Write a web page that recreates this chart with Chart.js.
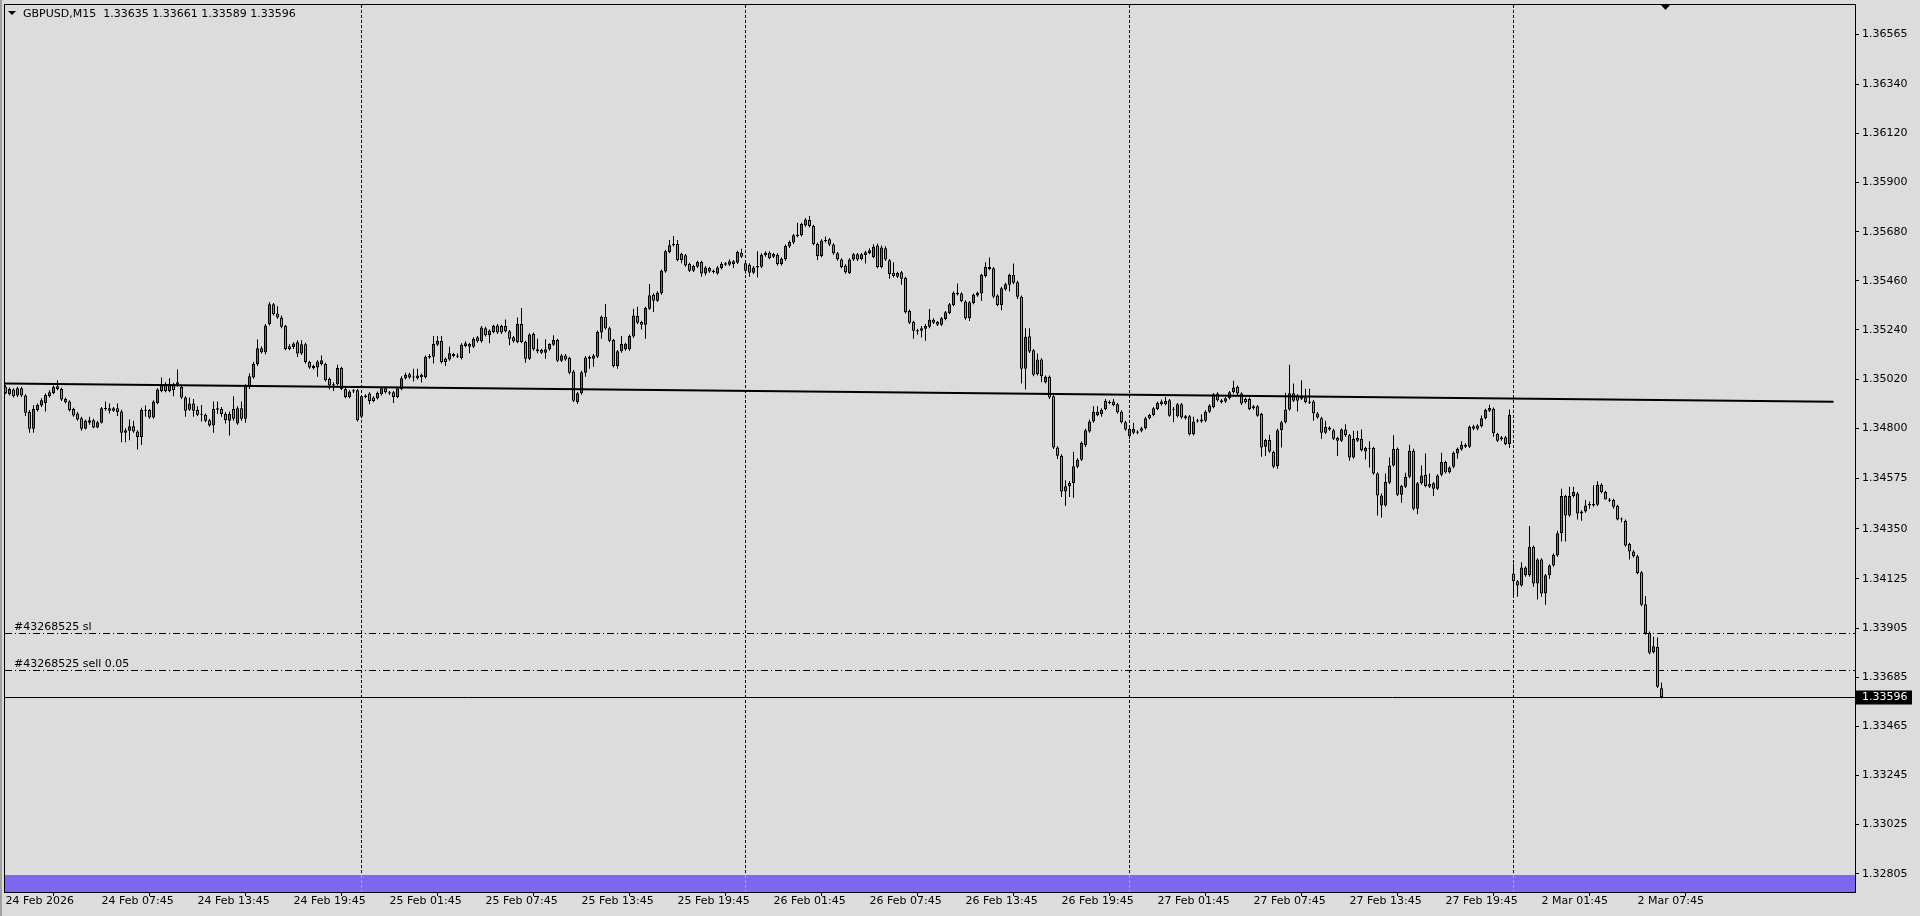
<!DOCTYPE html>
<html>
<head>
<meta charset="utf-8">
<script src="https://cdn.jsdelivr.net/npm/chart.js@4.4.0/dist/chart.umd.min.js"></script>
<style>
html, body { margin: 0; padding: 0; background: #dcdcdc; overflow: hidden; }
canvas { display: block; }
</style>
</head>
<body>
<canvas id="priceChart" width="1920" height="916"></canvas>
<script>
const symbolTitle = "GBPUSD,M15  1.33635 1.33661 1.33589 1.33596";

// M15 bars, 24 Feb 01:45 .. 2 Mar 09:15
const opens = [
1.34985,1.34952,1.34973,1.34946,1.34979,1.34946,1.34872,1.34797,1.34881,1.34901,
1.34913,1.34943,1.34958,1.34988,1.34976,1.34931,1.34919,1.34886,1.34866,1.34845,
1.34797,1.34824,1.34836,1.34803,1.34824,1.34886,1.34889,1.34889,1.34889,1.34875,
1.34779,1.34788,1.34809,1.34785,1.34761,1.34878,1.34881,1.34848,1.34913,1.34967,
1.34997,1.34967,1.34997,1.35006,1.34985,1.34937,1.34883,1.34910,1.34881,1.34860,
1.34860,1.34836,1.34812,1.34883,1.34886,1.34863,1.34833,1.34886,1.34821,1.34889,
1.34842,1.34985,1.35027,1.35087,1.35158,1.35140,1.35266,1.35355,1.35313,1.35296,
1.35257,1.35167,1.35164,1.35185,1.35134,1.35176,1.35096,1.35069,1.35072,1.35087,
1.35087,1.35021,1.34997,1.34997,1.35069,1.34976,1.34940,1.34964,1.34970,1.34851,
1.34940,1.34955,1.34937,1.34934,1.34952,1.34979,1.34961,1.34961,1.34940,1.34976,
1.35024,1.35042,1.35027,1.35036,1.35028,1.35028,1.35117,1.35120,1.35174,1.35192,
1.35111,1.35108,1.35123,1.35126,1.35114,1.35168,1.35165,1.35165,1.35189,1.35189,
1.35248,1.35216,1.35231,1.35260,1.35257,1.35257,1.35234,1.35207,1.35186,1.35266,
1.35186,1.35111,1.35222,1.35153,1.35150,1.35138,1.35153,1.35174,1.35195,1.35102,
1.35126,1.35114,1.35054,1.34917,1.34956,1.35048,1.35111,1.35111,1.35120,1.35228,
1.35299,1.35248,1.35195,1.35078,1.35144,1.35153,1.35153,1.35210,1.35302,1.35275,
1.35263,1.35335,1.35398,1.35371,1.35404,1.35502,1.35589,1.35625,1.35625,1.35580,
1.35574,1.35535,1.35505,1.35523,1.35544,1.35493,1.35517,1.35499,1.35493,1.35517,
1.35532,1.35532,1.35547,1.35541,1.35586,1.35538,1.35532,1.35496,1.35520,1.35523,
1.35586,1.35586,1.35568,1.35577,1.35535,1.35556,1.35613,1.35631,1.35661,1.35664,
1.35708,1.35732,1.35705,1.35625,1.35571,1.35637,1.35646,1.35622,1.35583,1.35555,
1.35528,1.35495,1.35555,1.35579,1.35558,1.35576,1.35585,1.35567,1.35618,1.35522,
1.35606,1.35552,1.35495,1.35478,1.35498,1.35472,1.35325,1.35275,1.35239,1.35236,
1.35245,1.35254,1.35286,1.35275,1.35263,1.35289,1.35316,1.35352,1.35400,1.35403,
1.35367,1.35292,1.35361,1.35394,1.35403,1.35481,1.35522,1.35516,1.35394,1.35352,
1.35421,1.35442,1.35487,1.35454,1.35388,1.35066,1.35212,1.35149,1.35042,1.35107,
1.35006,1.35030,1.34943,1.34713,1.34677,1.34516,1.34540,1.34555,1.34627,1.34659,
1.34725,1.34785,1.34830,1.34874,1.34862,1.34886,1.34913,1.34919,1.34907,1.34874,
1.34827,1.34764,1.34779,1.34779,1.34788,1.34800,1.34845,1.34859,1.34886,1.34907,
1.34907,1.34925,1.34883,1.34853,1.34907,1.34853,1.34853,1.34773,1.34830,1.34830,
1.34833,1.34874,1.34895,1.34955,1.34925,1.34919,1.34934,1.34961,1.34985,1.34955,
1.34931,1.34931,1.34889,1.34898,1.34863,1.34717,1.34747,1.34693,1.34630,1.34791,
1.34827,1.34884,1.34956,1.34947,1.34932,1.34938,1.34920,1.34920,1.34866,1.34845,
1.34780,1.34803,1.34791,1.34756,1.34744,1.34794,1.34768,1.34669,1.34756,1.34753,
1.34696,1.34708,1.34711,1.34597,1.34454,1.34454,1.34556,1.34633,1.34708,1.34502,
1.34538,1.34582,1.34699,1.34439,1.34553,1.34591,1.34538,1.34553,1.34529,1.34591,
1.34648,1.34603,1.34627,1.34687,1.34705,1.34726,1.34717,1.34797,1.34797,1.34809,
1.34845,1.34878,1.34887,1.34774,1.34759,1.34759,1.34729,1.34149,1.34114,1.34096,
1.34141,1.34141,1.34269,1.34105,1.34212,1.34060,1.34141,1.34185,1.34230,1.34329,
1.34496,1.34409,1.34496,1.34508,1.34427,1.34427,1.34454,1.34454,1.34457,1.34547,
1.34514,1.34481,1.34478,1.34451,1.34394,1.34385,1.34281,1.34248,1.34227,1.34155,
1.34012,1.33884,1.33797,1.33821,1.33635
];
const highs = [
1.34993,1.34982,1.34979,1.34985,1.34985,1.34952,1.34881,1.34903,1.34910,1.34934,
1.34955,1.34970,1.34991,1.35015,1.34982,1.34937,1.34925,1.34892,1.34872,1.34851,
1.34839,1.34851,1.34842,1.34833,1.34895,1.34919,1.34910,1.34895,1.34910,1.34883,
1.34800,1.34839,1.34833,1.34791,1.34892,1.34901,1.34886,1.34925,1.34979,1.35027,
1.35006,1.35024,1.35003,1.35063,1.34991,1.34943,1.34937,1.34931,1.34898,1.34904,
1.34866,1.34842,1.34919,1.34919,1.34895,1.34872,1.34875,1.34943,1.34898,1.34919,
1.34997,1.35045,1.35096,1.35197,1.35167,1.35266,1.35364,1.35361,1.35346,1.35305,
1.35263,1.35176,1.35185,1.35194,1.35194,1.35182,1.35102,1.35084,1.35104,1.35125,
1.35093,1.35027,1.35006,1.35084,1.35075,1.34982,1.34970,1.34976,1.34976,1.34949,
1.34952,1.34961,1.34943,1.34964,1.34985,1.34985,1.34967,1.34967,1.34985,1.35033,
1.35048,1.35048,1.35066,1.35066,1.35045,1.35126,1.35132,1.35213,1.35213,1.35213,
1.35117,1.35165,1.35138,1.35135,1.35180,1.35189,1.35183,1.35207,1.35213,1.35257,
1.35254,1.35242,1.35263,1.35266,1.35263,1.35287,1.35240,1.35213,1.35296,1.35338,
1.35192,1.35225,1.35228,1.35201,1.35156,1.35198,1.35180,1.35216,1.35201,1.35132,
1.35132,1.35120,1.35060,1.34962,1.35057,1.35123,1.35126,1.35132,1.35237,1.35305,
1.35356,1.35254,1.35201,1.35150,1.35213,1.35183,1.35219,1.35335,1.35344,1.35281,
1.35344,1.35446,1.35404,1.35413,1.35511,1.35598,1.35643,1.35661,1.35643,1.35586,
1.35580,1.35541,1.35532,1.35550,1.35550,1.35526,1.35523,1.35511,1.35526,1.35544,
1.35544,1.35556,1.35553,1.35595,1.35604,1.35544,1.35538,1.35526,1.35592,1.35583,
1.35592,1.35592,1.35586,1.35583,1.35565,1.35622,1.35640,1.35670,1.35720,1.35720,
1.35741,1.35750,1.35711,1.35631,1.35646,1.35658,1.35652,1.35628,1.35589,1.35561,
1.35534,1.35561,1.35585,1.35585,1.35585,1.35594,1.35606,1.35624,1.35627,1.35618,
1.35615,1.35558,1.35543,1.35501,1.35504,1.35478,1.35331,1.35281,1.35245,1.35257,
1.35266,1.35334,1.35292,1.35280,1.35298,1.35325,1.35361,1.35412,1.35448,1.35409,
1.35373,1.35370,1.35403,1.35412,1.35492,1.35543,1.35564,1.35522,1.35400,1.35433,
1.35451,1.35492,1.35537,1.35460,1.35394,1.35248,1.35248,1.35155,1.35134,1.35113,
1.35036,1.35036,1.34949,1.34719,1.34683,1.34567,1.34564,1.34695,1.34665,1.34740,
1.34797,1.34839,1.34898,1.34898,1.34889,1.34931,1.34925,1.34931,1.34913,1.34880,
1.34833,1.34803,1.34824,1.34791,1.34806,1.34851,1.34865,1.34895,1.34919,1.34928,
1.34940,1.34931,1.34895,1.34913,1.34913,1.34859,1.34859,1.34851,1.34842,1.34862,
1.34880,1.34907,1.34958,1.34961,1.34931,1.34940,1.34967,1.35012,1.34991,1.34961,
1.34937,1.34937,1.34904,1.34904,1.34869,1.34753,1.34771,1.34699,1.34797,1.34833,
1.34959,1.35084,1.35000,1.34953,1.35015,1.34977,1.34977,1.34926,1.34872,1.34851,
1.34833,1.34809,1.34797,1.34762,1.34800,1.34818,1.34774,1.34788,1.34788,1.34794,
1.34717,1.34741,1.34717,1.34603,1.34508,1.34597,1.34669,1.34768,1.34714,1.34547,
1.34600,1.34726,1.34708,1.34559,1.34633,1.34687,1.34597,1.34559,1.34594,1.34690,
1.34654,1.34630,1.34696,1.34714,1.34741,1.34732,1.34812,1.34815,1.34818,1.34857,
1.34887,1.34905,1.34893,1.34780,1.34765,1.34765,1.34884,1.34194,1.34120,1.34200,
1.34182,1.34362,1.34275,1.34218,1.34218,1.34147,1.34191,1.34239,1.34341,1.34529,
1.34502,1.34538,1.34538,1.34514,1.34433,1.34478,1.34472,1.34544,1.34562,1.34553,
1.34520,1.34487,1.34484,1.34457,1.34400,1.34391,1.34287,1.34254,1.34233,1.34161,
1.34048,1.33890,1.33866,1.33863,1.33661
];
const lows = [
1.34952,1.34946,1.34937,1.34940,1.34940,1.34854,1.34779,1.34779,1.34875,1.34895,
1.34875,1.34937,1.34952,1.34970,1.34922,1.34910,1.34875,1.34851,1.34833,1.34788,
1.34794,1.34815,1.34800,1.34800,1.34821,1.34878,1.34866,1.34872,1.34854,1.34737,
1.34737,1.34746,1.34779,1.34704,1.34725,1.34851,1.34842,1.34842,1.34907,1.34961,
1.34961,1.34961,1.34943,1.34985,1.34931,1.34851,1.34878,1.34851,1.34854,1.34830,
1.34827,1.34806,1.34779,1.34863,1.34851,1.34821,1.34767,1.34833,1.34815,1.34833,
1.34824,1.34976,1.35021,1.35078,1.35134,1.35131,1.35260,1.35305,1.35290,1.35248,
1.35149,1.35149,1.35155,1.35119,1.35128,1.35090,1.35066,1.35063,1.35030,1.35081,
1.35009,1.34973,1.34967,1.34991,1.34970,1.34934,1.34934,1.34958,1.34830,1.34845,
1.34934,1.34907,1.34916,1.34928,1.34946,1.34955,1.34949,1.34913,1.34934,1.34970,
1.35018,1.35021,1.35009,1.35018,1.35004,1.35022,1.35111,1.35090,1.35168,1.35090,
1.35078,1.35102,1.35117,1.35114,1.35108,1.35162,1.35135,1.35159,1.35183,1.35183,
1.35210,1.35180,1.35225,1.35222,1.35222,1.35228,1.35171,1.35183,1.35180,1.35180,
1.35093,1.35105,1.35147,1.35135,1.35132,1.35111,1.35147,1.35168,1.35096,1.35096,
1.35102,1.35042,1.34917,1.34908,1.34950,1.35030,1.35066,1.35075,1.35114,1.35201,
1.35242,1.35186,1.35072,1.35066,1.35138,1.35147,1.35147,1.35204,1.35266,1.35242,
1.35201,1.35329,1.35320,1.35365,1.35398,1.35496,1.35583,1.35613,1.35547,1.35538,
1.35523,1.35499,1.35499,1.35517,1.35478,1.35484,1.35496,1.35493,1.35487,1.35511,
1.35526,1.35526,1.35517,1.35535,1.35562,1.35493,1.35478,1.35490,1.35475,1.35517,
1.35568,1.35556,1.35562,1.35529,1.35529,1.35550,1.35607,1.35625,1.35655,1.35658,
1.35702,1.35699,1.35619,1.35553,1.35565,1.35631,1.35616,1.35577,1.35550,1.35516,
1.35492,1.35490,1.35549,1.35549,1.35552,1.35537,1.35579,1.35561,1.35516,1.35516,
1.35549,1.35469,1.35475,1.35472,1.35442,1.35313,1.35266,1.35200,1.35218,1.35206,
1.35191,1.35248,1.35266,1.35257,1.35257,1.35283,1.35310,1.35346,1.35394,1.35364,
1.35286,1.35280,1.35355,1.35388,1.35370,1.35475,1.35507,1.35382,1.35346,1.35328,
1.35415,1.35412,1.35445,1.35379,1.35000,1.34973,1.35137,1.35033,1.35036,1.35006,
1.35000,1.34931,1.34707,1.34662,1.34492,1.34453,1.34492,1.34489,1.34621,1.34653,
1.34716,1.34779,1.34824,1.34853,1.34851,1.34880,1.34907,1.34898,1.34865,1.34821,
1.34788,1.34752,1.34773,1.34773,1.34782,1.34794,1.34839,1.34853,1.34880,1.34901,
1.34901,1.34851,1.34827,1.34848,1.34842,1.34839,1.34767,1.34767,1.34824,1.34824,
1.34827,1.34868,1.34889,1.34919,1.34910,1.34913,1.34928,1.34955,1.34949,1.34904,
1.34910,1.34880,1.34883,1.34851,1.34672,1.34675,1.34690,1.34621,1.34618,1.34714,
1.34821,1.34878,1.34917,1.34875,1.34926,1.34911,1.34908,1.34833,1.34842,1.34753,
1.34774,1.34788,1.34747,1.34675,1.34738,1.34762,1.34654,1.34663,1.34738,1.34696,
1.34660,1.34624,1.34591,1.34409,1.34400,1.34448,1.34550,1.34627,1.34496,1.34466,
1.34532,1.34576,1.34433,1.34415,1.34547,1.34535,1.34532,1.34496,1.34523,1.34585,
1.34597,1.34597,1.34621,1.34663,1.34699,1.34711,1.34711,1.34791,1.34791,1.34803,
1.34839,1.34872,1.34762,1.34738,1.34744,1.34723,1.34711,1.34045,1.34045,1.34090,
1.34135,1.34135,1.34090,1.34033,1.34045,1.34009,1.34126,1.34179,1.34224,1.34293,
1.34293,1.34403,1.34490,1.34391,1.34385,1.34421,1.34439,1.34448,1.34451,1.34508,
1.34481,1.34469,1.34439,1.34388,1.34379,1.34269,1.34212,1.34221,1.34146,1.34003,
1.33875,1.33788,1.33791,1.33636,1.33589
];
const closes = [
1.34958,1.34976,1.34943,1.34979,1.34946,1.34869,1.34797,1.34886,1.34904,1.34925,
1.34949,1.34961,1.34985,1.34976,1.34928,1.34916,1.34881,1.34857,1.34839,1.34797,
1.34833,1.34836,1.34803,1.34827,1.34889,1.34889,1.34878,1.34878,1.34872,1.34779,
1.34791,1.34809,1.34785,1.34761,1.34881,1.34883,1.34848,1.34919,1.34973,1.34997,
1.34967,1.34997,1.34970,1.34994,1.34937,1.34878,1.34910,1.34878,1.34860,1.34863,
1.34833,1.34812,1.34886,1.34889,1.34863,1.34836,1.34863,1.34842,1.34889,1.34842,
1.34991,1.35033,1.35087,1.35158,1.35140,1.35260,1.35355,1.35310,1.35296,1.35254,
1.35155,1.35155,1.35179,1.35134,1.35176,1.35096,1.35072,1.35078,1.35099,1.35104,
1.35015,1.34991,1.34991,1.35069,1.34976,1.34940,1.34964,1.34970,1.34836,1.34943,
1.34946,1.34922,1.34922,1.34958,1.34979,1.34961,1.34955,1.34940,1.34979,1.35024,
1.35039,1.35027,1.35030,1.35024,1.35039,1.35120,1.35123,1.35177,1.35192,1.35096,
1.35096,1.35135,1.35132,1.35120,1.35174,1.35180,1.35177,1.35201,1.35207,1.35251,
1.35216,1.35237,1.35257,1.35228,1.35228,1.35234,1.35201,1.35189,1.35266,1.35186,
1.35111,1.35219,1.35153,1.35144,1.35138,1.35153,1.35177,1.35195,1.35102,1.35126,
1.35108,1.35048,1.34923,1.34956,1.35051,1.35117,1.35120,1.35126,1.35231,1.35299,
1.35248,1.35192,1.35078,1.35144,1.35177,1.35177,1.35213,1.35305,1.35272,1.35263,
1.35338,1.35395,1.35371,1.35407,1.35505,1.35592,1.35619,1.35619,1.35553,1.35553,
1.35529,1.35505,1.35526,1.35544,1.35493,1.35520,1.35502,1.35505,1.35520,1.35535,
1.35538,1.35547,1.35535,1.35589,1.35568,1.35505,1.35496,1.35520,1.35526,1.35577,
1.35574,1.35562,1.35580,1.35535,1.35559,1.35616,1.35634,1.35664,1.35667,1.35714,
1.35735,1.35705,1.35625,1.35571,1.35640,1.35643,1.35622,1.35583,1.35556,1.35522,
1.35498,1.35555,1.35579,1.35555,1.35579,1.35588,1.35597,1.35612,1.35522,1.35609,
1.35555,1.35490,1.35481,1.35495,1.35469,1.35319,1.35272,1.35236,1.35233,1.35248,
1.35257,1.35286,1.35272,1.35263,1.35292,1.35319,1.35355,1.35406,1.35406,1.35370,
1.35292,1.35364,1.35397,1.35406,1.35487,1.35522,1.35513,1.35388,1.35352,1.35427,
1.35445,1.35487,1.35451,1.35388,1.35066,1.35209,1.35143,1.35039,1.35107,1.35033,
1.35030,1.34937,1.34713,1.34677,1.34516,1.34540,1.34555,1.34630,1.34659,1.34734,
1.34791,1.34830,1.34874,1.34859,1.34883,1.34922,1.34916,1.34904,1.34871,1.34827,
1.34794,1.34797,1.34797,1.34785,1.34800,1.34845,1.34859,1.34889,1.34913,1.34919,
1.34922,1.34856,1.34886,1.34907,1.34848,1.34845,1.34773,1.34830,1.34836,1.34839,
1.34874,1.34901,1.34952,1.34925,1.34916,1.34934,1.34961,1.34982,1.34955,1.34910,
1.34916,1.34886,1.34898,1.34856,1.34714,1.34747,1.34696,1.34627,1.34791,1.34827,
1.34884,1.34956,1.34923,1.34923,1.34941,1.34917,1.34914,1.34866,1.34848,1.34780,
1.34806,1.34794,1.34753,1.34744,1.34794,1.34768,1.34669,1.34753,1.34744,1.34702,
1.34711,1.34711,1.34597,1.34499,1.34499,1.34559,1.34633,1.34708,1.34502,1.34541,
1.34582,1.34699,1.34439,1.34553,1.34588,1.34541,1.34550,1.34529,1.34588,1.34648,
1.34603,1.34624,1.34690,1.34708,1.34726,1.34717,1.34806,1.34809,1.34812,1.34845,
1.34881,1.34890,1.34777,1.34744,1.34750,1.34729,1.34860,1.34114,1.34096,1.34176,
1.34176,1.34269,1.34105,1.34212,1.34060,1.34141,1.34185,1.34233,1.34329,1.34496,
1.34409,1.34496,1.34514,1.34418,1.34418,1.34454,1.34460,1.34460,1.34547,1.34514,
1.34481,1.34475,1.34448,1.34391,1.34391,1.34275,1.34248,1.34227,1.34152,1.34009,
1.33881,1.33794,1.33824,1.33642,1.33596
];

const tickBars = [0, 24, 48, 72, 96, 120, 144, 168, 192, 216, 240, 264, 288, 312, 336, 360, 384, 408];
const tickLabels = ["24 Feb 2026", "24 Feb 07:45", "24 Feb 13:45", "24 Feb 19:45", "25 Feb 01:45", "25 Feb 07:45",
    "25 Feb 13:45", "25 Feb 19:45", "26 Feb 01:45", "26 Feb 07:45", "26 Feb 13:45", "26 Feb 19:45",
    "27 Feb 01:45", "27 Feb 07:45", "27 Feb 13:45", "27 Feb 19:45", "2 Mar 01:45", "2 Mar 07:45"];
const priceTicks = [1.36565, 1.36340, 1.36120, 1.35900, 1.35680, 1.35460, 1.35240, 1.35020, 1.34800,
    1.34575, 1.34350, 1.34125, 1.33905, 1.33685, 1.33465, 1.33245, 1.33025, 1.32805];
const daySeparators = [89, 185, 281, 377];
const trendBars = [-0.125, 457];
const trendPrices = [1.35000, 1.34918];
const orderPrices = [1.33880, 1.33714];
const orderLabels = ["#43268525 sl", "#43268525 sell 0.05"];
const bidPrice = 1.33596;
const boxTopPrice = 1.32800;
const shiftBar = 415;

const bullColor = "#2e8b57";
const bearColor = "#db7093";
const fontName = "DejaVu Sans";

Chart.defaults.font.family = fontName;
Chart.defaults.font.size = 11;
Chart.defaults.color = "#000";

function noPadding(axis) {
    axis.paddingTop = 0;
    axis.paddingBottom = 0;
    axis.paddingLeft = 0;
    axis.paddingRight = 0;
}

const overlay = {
    id: "overlay",
    beforeDatasetsDraw(chart) {
        const { ctx, chartArea: a, scales } = chart;
        const x = scales.x, y = scales.y;
        ctx.save();
        ctx.beginPath();
        ctx.rect(a.left, a.top, a.right - a.left, a.bottom - a.top);
        ctx.clip();
        ctx.strokeStyle = "#000";
        ctx.lineWidth = 1;
        // rectangle at the bottom
        ctx.fillStyle = "#7b68ee";
        const by = Math.round(y.getPixelForValue(boxTopPrice));
        ctx.fillRect(a.left, by, a.right - a.left, a.bottom - by);
        // period separators (faint where they cross the rectangle)
        ctx.setLineDash([3, 2]);
        daySeparators.forEach((b) => {
            const px = Math.floor(x.getPixelForValue(b)) + 0.5;
            ctx.strokeStyle = "#000";
            ctx.beginPath();
            ctx.moveTo(px, a.top);
            ctx.lineTo(px, by);
            ctx.stroke();
            ctx.strokeStyle = "#b9ad6a";
            ctx.beginPath();
            ctx.moveTo(px, by);
            ctx.lineTo(px, a.bottom);
            ctx.stroke();
        });
        ctx.strokeStyle = "#000";
        // order levels
        ctx.setLineDash([7, 3, 1, 3]);
        orderPrices.forEach((p) => {
            const py = Math.floor(y.getPixelForValue(p)) + 0.5;
            ctx.beginPath();
            ctx.moveTo(a.left, py);
            ctx.lineTo(a.right, py);
            ctx.stroke();
        });
        // bid line
        ctx.setLineDash([]);
        const bp = Math.floor(y.getPixelForValue(bidPrice)) + 0.5;
        ctx.beginPath();
        ctx.moveTo(a.left, bp);
        ctx.lineTo(a.right, bp);
        ctx.stroke();
        ctx.restore();
    },
    afterDraw(chart) {
        const { ctx, chartArea: a, scales } = chart;
        const x = scales.x, y = scales.y;
        ctx.save();
        // window edge on the left
        ctx.fillStyle = "#a0a0a0";
        ctx.fillRect(0, 0, 2, chart.height);
        ctx.strokeStyle = "#000";
        ctx.lineWidth = 1;
        ctx.strokeRect(a.left - 0.5, a.top - 0.5, a.right - a.left + 1, a.bottom - a.top + 1);

        ctx.font = "11px '" + fontName + "'";
        ctx.fillStyle = "#000";
        ctx.textAlign = "left";
        ctx.textBaseline = "alphabetic";
        orderPrices.forEach((p, i) => {
            const py = Math.floor(y.getPixelForValue(p));
            ctx.fillText(orderLabels[i], a.left + 9, py - 3);
        });

        // title
        ctx.textBaseline = "middle";
        ctx.fillText(symbolTitle, a.left + 18, a.top + 9);
        ctx.beginPath();
        ctx.moveTo(a.left + 3, a.top + 6);
        ctx.lineTo(a.left + 11, a.top + 6);
        ctx.lineTo(a.left + 7, a.top + 10);
        ctx.closePath();
        ctx.fill();

        // chart shift marker
        const sx = Math.floor(x.getPixelForValue(shiftBar)) + 0.5;
        ctx.beginPath();
        ctx.moveTo(sx - 4.5, a.top);
        ctx.lineTo(sx + 4.5, a.top);
        ctx.lineTo(sx, a.top + 5);
        ctx.closePath();
        ctx.fill();

        // bid label
        const bp = Math.floor(y.getPixelForValue(bidPrice)) + 0.5;
        ctx.fillRect(a.right + 1, bp - 7, 56, 14);
        ctx.fillStyle = "#fff";
        ctx.fillText(bidPrice.toFixed(5), a.right + 7, bp);
        ctx.restore();
    }
};

new Chart(document.getElementById("priceChart"), {
    type: "bar",
    data: {
        datasets: [
            {
                type: "line",
                data: trendBars.map((b, i) => ({ x: b, y: trendPrices[i] })),
                borderColor: "#000",
                borderWidth: 2,
                pointRadius: 0,
                order: 1,
            },
            {
                data: opens.map((o, i) => ({ x: i, y: [o, closes[i]] })),
                backgroundColor: opens.map((o, i) => (closes[i] >= o ? bullColor : bearColor)),
                borderColor: "#000",
                borderWidth: 1,
                borderSkipped: false,
                barThickness: 3,
                minBarLength: 1,
                grouped: false,
                inflateAmount: 0,
                order: 2,
            },
            {
                data: lows.map((l, i) => ({ x: i, y: [l, highs[i]] })),
                backgroundColor: "#000",
                borderWidth: 0,
                barThickness: 1,
                minBarLength: 1,
                grouped: false,
                inflateAmount: 0,
                order: 3,
            },
        ],
    },
    options: {
        responsive: false,
        animation: false,
        events: [],
        devicePixelRatio: 1,
        layout: { padding: { left: 5, top: 5, right: 0, bottom: 0 } },
        plugins: {
            legend: { display: false },
            title: { display: false },
            tooltip: { enabled: false },
        },
        scales: {
            x: {
                type: "linear",
                offset: false,
                min: -0.125,
                max: 462.375,
                afterBuildTicks: (axis) => { axis.ticks = tickBars.map((v) => ({ value: v })); },
                afterFit: (axis) => { axis.height = 24; noPadding(axis); },
                grid: { drawOnChartArea: false, drawTicks: true, tickLength: 4, color: "#000" },
                border: { display: false },
                ticks: {
                    autoSkip: false,
                    maxRotation: 0,
                    minRotation: 0,
                    align: "start",
                    padding: -1,
                    color: "#000",
                    callback: (v, i) => tickLabels[i],
                },
            },
            y: {
                position: "right",
                min: 1.32723,
                max: 1.36695,
                afterBuildTicks: (axis) => { axis.ticks = priceTicks.map((v) => ({ value: v })); },
                afterFit: (axis) => { axis.width = 65; noPadding(axis); },
                grid: { drawOnChartArea: false, drawTicks: true, tickLength: 4, color: "#000" },
                border: { display: false },
                ticks: {
                    autoSkip: false,
                    padding: 3,
                    color: "#000",
                    callback: (v) => v.toFixed(5),
                },
            },
        },
    },
    plugins: [overlay],
});
</script>
</body>
</html>
